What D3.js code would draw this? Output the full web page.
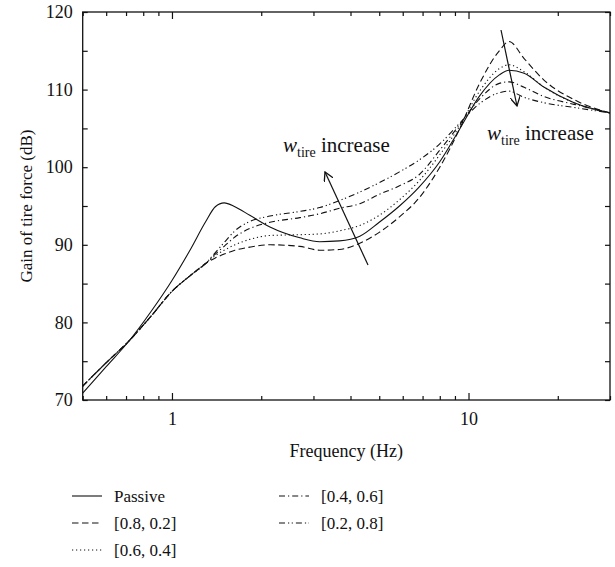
<!DOCTYPE html>
<html>
<head>
<meta charset="utf-8">
<script src="https://cdn.jsdelivr.net/npm/d3@7"></script>
<style>
  body { margin: 0; background: #fff; }
  svg text { font-family: "Liberation Serif", "DejaVu Serif", serif; fill: #111; }
</style>
</head>
<body>
<div id="chart"></div>
<script>
// frequencies (Hz) shared by every curve
const freq = [0.5, 0.6, 0.72, 0.85, 1.0, 1.15, 1.3, 1.4, 1.5, 1.63, 1.83, 2.14, 2.7, 3.15, 3.67, 4.3, 5.0, 5.85, 6.8, 8.0, 9.3, 10.9, 12.7, 13.7, 15.4, 18, 22.7, 30];

// gain of tire force (dB)
const passive = [70.9, 74.3, 77.7, 81.4, 85.4, 89.3, 93.0, 94.9, 95.4, 94.9, 93.8, 92.3, 90.9, 90.4, 90.5, 91.1, 92.9, 95.0, 97.4, 100.7, 104.8, 109.2, 111.9, 112.5, 112.1, 110.3, 108.3, 107.0];
const w82 = [71.8, 74.8, 77.7, 80.8, 84.0, 86.0, 87.6, 88.3, 88.8, 89.3, 89.7, 90.0, 89.8, 89.3, 89.4, 90.2, 91.6, 93.6, 96.0, 100.0, 104.8, 110.8, 115.0, 116.2, 114.0, 111.2, 108.7, 107.0];
const w64 = [71.8, 74.8, 77.7, 80.8, 84.0, 86.0, 87.6, 88.6, 89.3, 90.0, 90.7, 91.2, 91.3, 91.4, 91.8, 92.5, 93.8, 95.8, 98.2, 101.6, 105.2, 109.8, 112.7, 113.2, 112.3, 110.3, 108.3, 107.0];
const w46 = [71.8, 74.8, 77.7, 80.8, 84.0, 86.0, 87.6, 88.8, 89.8, 91.0, 92.1, 92.9, 93.5, 94.0, 94.7, 95.3, 96.5, 97.6, 99.0, 102.2, 105.4, 108.8, 110.8, 111.0, 110.3, 109.1, 108.1, 107.0];
const w28 = [71.8, 74.8, 77.7, 80.8, 84.0, 86.0, 87.6, 89.0, 90.3, 91.8, 93.0, 93.7, 94.3, 94.8, 95.7, 96.8, 98.0, 99.4, 100.9, 103.0, 105.6, 108.2, 109.6, 109.8, 109.0, 108.3, 107.7, 107.0];

const seriesNames = ["Passive", "[0.8, 0.2]", "[0.6, 0.4]", "[0.4, 0.6]", "[0.2, 0.8]"];
const seriesValues = [passive, w82, w64, w46, w28];
const dashes = [null, "6.5,3.5", "1.2,2.8", "6,3,1.2,3", "6,3,1.2,2.5,1.2,3"];

const yTicks = [70, 80, 90, 100, 110, 120];
const yMinor = [75, 85, 95, 105, 115];
const xMajor = [1, 10];
const xMinor = [0.5, 0.6, 0.7, 0.8, 0.9, 2, 3, 4, 5, 6, 7, 8, 9, 20, 30];

const width = 615, height = 567;
const margin = { top: 12, right: 5, bottom: 167, left: 82.7 };
const innerW = width - margin.left - margin.right;
const innerH = height - margin.top - margin.bottom;

const svg = d3.select("#chart").append("svg")
    .attr("width", width)
    .attr("height", height);

const g = svg.append("g")
    .attr("transform", `translate(${margin.left},${margin.top})`);

const x = d3.scaleLog().domain([0.5, 30]).range([0, innerW]);
const y = d3.scaleLinear().domain([70, 120]).range([innerH, 0]);

// axes: ticks point inwards on all four sides
function styleAxis(sel) {
    sel.select(".domain").remove();
    sel.selectAll("line").attr("stroke", "#111").attr("stroke-width", 1.2);
    sel.selectAll("text").attr("font-size", "18px");
}

g.append("g").attr("transform", `translate(0,${innerH})`)
    .call(d3.axisBottom(x).tickValues(xMajor).tickSize(-7).tickPadding(12).tickFormat(d3.format("d")))
    .call(styleAxis);
g.append("g").attr("transform", `translate(0,${innerH})`)
    .call(d3.axisBottom(x).tickValues(xMinor).tickSize(-4).tickFormat(""))
    .call(styleAxis);
g.append("g")
    .call(d3.axisTop(x).tickValues(xMajor).tickSize(-7).tickFormat(""))
    .call(styleAxis);
g.append("g")
    .call(d3.axisTop(x).tickValues(xMinor).tickSize(-4).tickFormat(""))
    .call(styleAxis);

g.append("g")
    .call(d3.axisLeft(y).tickValues(yTicks.concat(yMinor)).tickSize(-5).tickPadding(10)
        .tickFormat(d => yTicks.includes(d) ? d : ""))
    .call(styleAxis);
g.append("g").attr("transform", `translate(${innerW},0)`)
    .call(d3.axisRight(y).tickValues(yTicks.concat(yMinor)).tickSize(-5).tickFormat(""))
    .call(styleAxis);

g.append("rect")
    .attr("width", innerW)
    .attr("height", innerH)
    .attr("fill", "none")
    .attr("stroke", "#111")
    .attr("stroke-width", 1.3);

// curves
g.append("clipPath").attr("id", "clip")
    .append("rect").attr("width", innerW).attr("height", innerH);

const line = d3.line()
    .x(d => x(d[0]))
    .y(d => y(d[1]))
    .curve(d3.curveMonotoneX);

seriesValues.forEach((vals, i) => {
    g.append("path")
        .datum(freq.map((f, j) => [f, vals[j]]))
        .attr("clip-path", "url(#clip)")
        .attr("fill", "none")
        .attr("stroke", "#111")
        .attr("stroke-width", 1.1)
        .attr("stroke-dasharray", dashes[i])
        .attr("d", line);
});

// annotations
svg.append("defs").append("marker")
    .attr("id", "arrow")
    .attr("viewBox", "0 0 10 10")
    .attr("refX", 9).attr("refY", 5)
    .attr("markerWidth", 10).attr("markerHeight", 10)
    .attr("markerUnits", "userSpaceOnUse")
    .attr("orient", "auto")
    .append("path")
    .attr("d", "M0,0 L9,5 L0,10")
    .attr("fill", "none")
    .attr("stroke", "#111")
    .attr("stroke-width", 1.3);

function arrow(x1, y1, x2, y2) {
    svg.append("line")
        .attr("x1", x1).attr("y1", y1).attr("x2", x2).attr("y2", y2)
        .attr("stroke", "#111")
        .attr("stroke-width", 1.2)
        .attr("marker-end", "url(#arrow)");
}
arrow(368, 265, 325, 172);
arrow(501, 30, 517, 106);

function wLabel(xp, yp) {
    const t = svg.append("text").attr("x", xp).attr("y", yp).attr("font-size", "21px");
    t.append("tspan").attr("font-style", "italic").text("w");
    t.append("tspan").attr("font-size", "14px").attr("dy", 5).text("tire");
    t.append("tspan").attr("dy", -5).text(" increase");
}
wLabel(283, 152);
wLabel(487, 140);

// axis titles
svg.append("text")
    .attr("x", margin.left + innerW / 2)
    .attr("y", 457)
    .attr("text-anchor", "middle")
    .attr("font-size", "18px")
    .text("Frequency (Hz)");

svg.append("text")
    .attr("transform", `translate(32,${margin.top + innerH / 2}) rotate(-90)`)
    .attr("text-anchor", "middle")
    .attr("font-size", "17px")
    .text("Gain of tire force (dB)");

// legend
const legendCols = [[72, 114], [279, 321]];
const legendRows = [496, 523, 550];
const legendPos = [[0, 0], [0, 1], [0, 2], [1, 0], [1, 1]];

seriesNames.forEach((name, i) => {
    const [c, r] = legendPos[i];
    const yy = legendRows[r];
    svg.append("line")
        .attr("x1", legendCols[c][0]).attr("x2", legendCols[c][0] + 30)
        .attr("y1", yy).attr("y2", yy)
        .attr("stroke", "#111")
        .attr("stroke-width", 1.1)
        .attr("stroke-dasharray", dashes[i]);
    svg.append("text")
        .attr("x", legendCols[c][1])
        .attr("y", yy + 6)
        .attr("font-size", "17px")
        .text(name);
});
</script>
</body>
</html>
